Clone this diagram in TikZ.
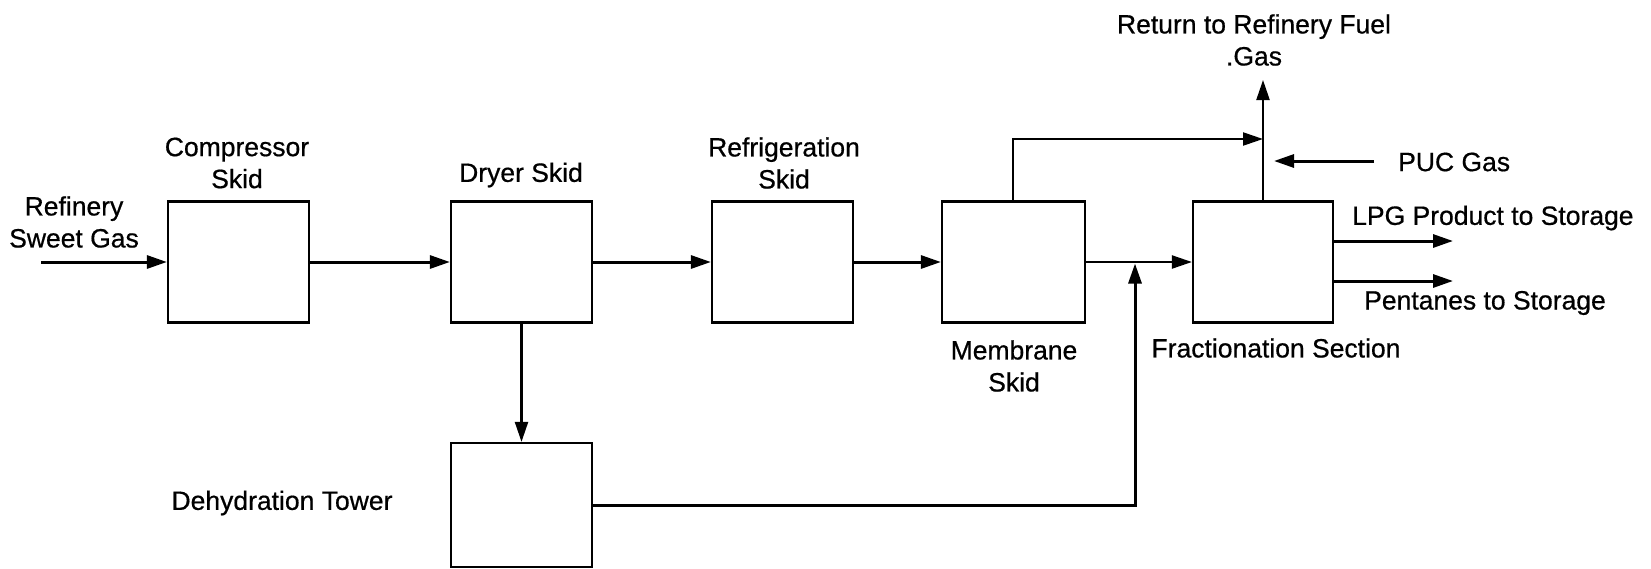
\documentclass[tikz,border=0pt]{standalone}
\usepackage{fontspec}
\setmainfont{Liberation Sans}[FakeBold=0.6]
\usetikzlibrary{arrows.meta}
\begin{document}
\begin{tikzpicture}[x=1pt,y=-1pt,
  unit/.style={draw,line width=2.2pt,minimum width=141pt,minimum height=121pt,inner sep=0pt},
  flow/.style={line width=3pt,-{Triangle[length=20pt,width=13pt]}},
  thinflow/.style={line width=2.2pt,-{Triangle[length=20pt,width=13pt]}},
  lbl/.style={font=\fontsize{26.5}{32}\selectfont,align=center,inner sep=0pt}]
\useasboundingbox (0,0) rectangle (1651,568);
% units
\node[unit] (comp) at (238.5,262) {};
\node[unit] (dryer) at (521.5,262) {};
\node[unit] (refr) at (782.5,262) {};
\node[unit,minimum width=143pt] (memb) at (1013.5,262) {};
\node[unit,minimum width=140pt] (frac) at (1263,262) {};
\node[unit,minimum height=124pt] (dehy) at (521.5,505) {};
% labels
\node[lbl] (tin) at (74,222) {Refinery\\Sweet Gas};
\node[lbl] (tcomp) at (237,163) {Compressor\\Skid};
\node[lbl] (tdry) at (521,175) {Dryer Skid};
\node[lbl] (trefr) at (784,163) {Refrigeration\\Skid};
\node[lbl] (tmemb) at (1014,366) {Membrane\\Skid};
\node[lbl] (tfrac) at (1276,348) {Fractionation Section};
\node[lbl] (tdehy) at (282,503) {Dehydration Tower};
\node[lbl] (tret) at (1254,40) {Return to Refinery Fuel\\.Gas};
\node[lbl,anchor=west] (tpuc) at (1398,162) {PUC Gas};
\node[lbl,anchor=west] (tlpg) at (1352,218) {LPG Product to Storage};
\node[lbl,anchor=west] (tpen) at (1364,303) {Pentanes to Storage};
% coordinates
\coordinate (feed) at (41,262);
\coordinate (junc) at (1135,262);
\coordinate (bypassTop) at (1013,139);
\coordinate (merge) at (1263,139);
\coordinate (retEnd) at (1263,80);
\coordinate (pucStart) at (1374,161);
\coordinate (pucEnd) at (1274,161);
\coordinate (lpgStart) at (1333,241);
\coordinate (lpgEnd) at (1453,241);
\coordinate (penStart) at (1333,281);
\coordinate (penEnd) at (1453,281);
% connectors
\draw[flow] (feed) -- (comp.west);
\draw[flow] (comp.east) -- (dryer.west);
\draw[flow] (dryer.east) -- (refr.west);
\draw[flow] (refr.east) -- (memb.west);
\draw[thinflow] (memb.east) -- (frac.west);
\draw[thinflow] (dryer.south) -- (dehy.north);
\draw[flow] (dehy.east) -| ([yshift=-1.5pt]junc);
\draw[thinflow] (memb.north -| bypassTop) -- (bypassTop) -- (merge);
\draw[thinflow] (frac.north) -- (retEnd);
\draw[flow] (pucStart) -- (pucEnd);
\draw[flow] (lpgStart) -- (lpgEnd);
\draw[flow] (penStart) -- (penEnd);
\end{tikzpicture}
\end{document}
